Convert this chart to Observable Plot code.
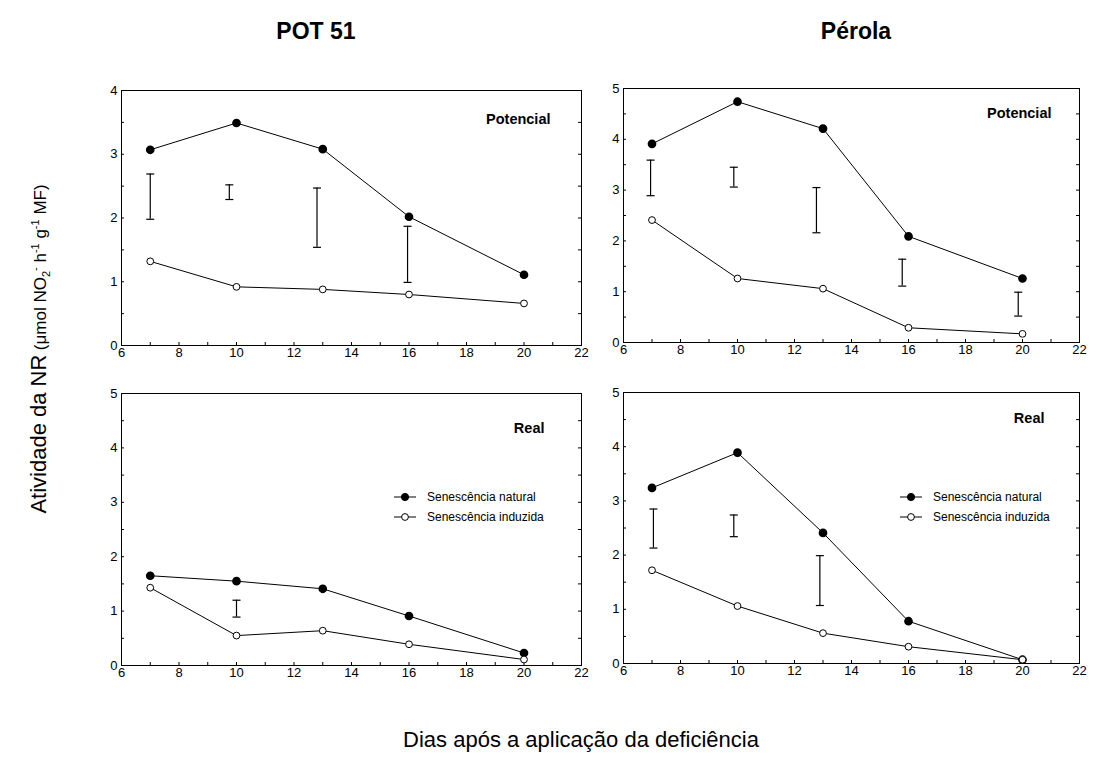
<!DOCTYPE html>
<html><head><meta charset="utf-8">
<script src="https://cdn.jsdelivr.net/npm/d3@7"></script>
<script src="https://cdn.jsdelivr.net/npm/@observablehq/plot@0.6"></script>
<style>
body{margin:0;background:#fff;font-family:"Liberation Sans",Arial,sans-serif;color:#000;}
#wrap{position:relative;width:1097px;height:758px;overflow:hidden;background:#fff;}
.abs{position:absolute;white-space:nowrap;}
.ctr{transform:translate(-50%,-50%);}
.leg{position:absolute;font-size:12px;line-height:20px;}
.leg div{display:flex;align-items:center;height:20px;}
.leg svg{margin-right:11px;}
</style></head><body><div id="wrap"></div>
<script>
// ---- data ----
const days = [7, 10, 13, 16, 20];
const seriesNames = ["Senescência natural", "Senescência induzida"];
const columnTitles = ["POT 51", "Pérola"];
const panelLabels = ["Potencial", "Real"];

// POT 51 – Potencial
const pot51PotNatural = [3.07, 3.49, 3.08, 2.02, 1.11];
const pot51PotInduzida = [1.32, 0.92, 0.88, 0.80, 0.66];
const pot51PotBarX = [7.0, 9.75, 12.8, 15.95];
const pot51PotBarLow = [1.98, 2.29, 1.54, 0.99];
const pot51PotBarHigh = [2.69, 2.52, 2.47, 1.87];

// Pérola – Potencial
const perolaPotNatural = [3.91, 4.74, 4.21, 2.09, 1.26];
const perolaPotInduzida = [2.41, 1.26, 1.06, 0.29, 0.17];
const perolaPotBarX = [6.95, 9.87, 12.77, 15.78, 19.85];
const perolaPotBarLow = [2.89, 3.06, 2.16, 1.11, 0.52];
const perolaPotBarHigh = [3.59, 3.45, 3.05, 1.64, 0.99];

// POT 51 – Real
const pot51RealNatural = [1.65, 1.55, 1.41, 0.91, 0.23];
const pot51RealInduzida = [1.43, 0.55, 0.64, 0.39, 0.11];
const pot51RealBarX = [10.0];
const pot51RealBarLow = [0.89];
const pot51RealBarHigh = [1.20];

// Pérola – Real
const perolaRealNatural = [3.24, 3.89, 2.41, 0.78, 0.07];
const perolaRealInduzida = [1.72, 1.06, 0.56, 0.31, 0.07];
const perolaRealBarX = [7.05, 9.87, 12.89];
const perolaRealBarLow = [2.13, 2.34, 1.07];
const perolaRealBarHigh = [2.85, 2.74, 1.99];

const xDomain = [6, 22];

// ---- layout ----
const wrap = document.getElementById("wrap");
const FONT = '"Liberation Sans", Arial, sans-serif';

const capSymbol = {draw(ctx, size) { const w = Math.sqrt(size / Math.PI); ctx.moveTo(-w, 0); ctx.lineTo(w, 0); }};

function panel(p) {
  const W = p.x1 - p.x0, H = p.yb - p.yt;
  const mL = 34, mR = 8, mT = 8, mB = 24;
  const yMajor = d3.range(0, p.ymax + 0.001, 1);
  const yMinor = d3.range(0, p.ymax + 0.001, 0.5);
  const xMajor = d3.range(xDomain[0], xDomain[1] + 0.001, 2);
  const xMinor = d3.range(xDomain[0], xDomain[1] + 0.001, 1);
  const nat = days.map((d, i) => ({x: d, y: p.nat[i]}));
  const ind = days.map((d, i) => ({x: d, y: p.ind[i]}));
  const bars = p.barX.map((x, i) => ({x, lo: p.barLo[i], hi: p.barHi[i]}));
  const chart = Plot.plot({
    width: W + mL + mR, height: H + mT + mB,
    marginLeft: mL, marginRight: mR, marginTop: mT, marginBottom: mB,
    x: {domain: xDomain}, y: {domain: [0, p.ymax]},
    style: {fontFamily: FONT, fontSize: "13px", color: "black", background: "transparent", overflow: "visible"},
    marks: [
      Plot.frame({stroke: "black", strokeWidth: 1}),
      Plot.axisY(yMajor, {tickSize: 0, tickPadding: 4, label: null, fontSize: 13, tickFormat: d3.format("d")}),
      Plot.axisX(xMajor, {tickSize: 0, tickPadding: 2, label: null, fontSize: 13, tickFormat: d3.format("d")}),
      Plot.tickY(yMinor, {y: d => d, insetRight: W - 3, stroke: "black"}),
      Plot.tickY(yMinor, {y: d => d, insetLeft: W - 3, stroke: "black"}),
      Plot.tickX(xMinor, {x: d => d, insetTop: H - 3, stroke: "black"}),
      Plot.ruleX(bars, {x: "x", y1: "lo", y2: "hi", stroke: "black", strokeWidth: 1.2}),
      Plot.dot(bars, {x: "x", y: "lo", symbol: capSymbol, r: 4, stroke: "black", fill: "none", strokeWidth: 1.2}),
      Plot.dot(bars, {x: "x", y: "hi", symbol: capSymbol, r: 4, stroke: "black", fill: "none", strokeWidth: 1.2}),
      Plot.line(nat, {x: "x", y: "y", stroke: "black", strokeWidth: 1}),
      Plot.line(ind, {x: "x", y: "y", stroke: "black", strokeWidth: 1}),
      Plot.dot(nat, {x: "x", y: "y", r: 3.6, fill: "black", stroke: "black"}),
      Plot.dot(ind, {x: "x", y: "y", r: 3.4, fill: "white", stroke: "black", strokeWidth: 1}),
      Plot.text([p.label], {frameAnchor: "top-right", dx: p.ldx, dy: p.ldy, textAnchor: "end", lineAnchor: "middle",
        fontWeight: "bold", fontSize: 14.5, fill: "black", fontFamily: FONT})
    ]
  });
  chart.style.position = "absolute";
  chart.style.left = (p.x0 - mL) + "px";
  chart.style.top = (p.yt - mT) + "px";
  wrap.appendChild(chart);
}

panel({x0: 121, x1: 581, yt: 90, yb: 345, ymax: 4, nat: pot51PotNatural, ind: pot51PotInduzida,
  barX: pot51PotBarX, barLo: pot51PotBarLow, barHi: pot51PotBarHigh, label: panelLabels[0], ldx: -31, ldy: 29});
panel({x0: 623, x1: 1079, yt: 88, yb: 342, ymax: 5, nat: perolaPotNatural, ind: perolaPotInduzida,
  barX: perolaPotBarX, barLo: perolaPotBarLow, barHi: perolaPotBarHigh, label: panelLabels[0], ldx: -28, ldy: 25});
panel({x0: 121, x1: 581, yt: 393, yb: 665, ymax: 5, nat: pot51RealNatural, ind: pot51RealInduzida,
  barX: pot51RealBarX, barLo: pot51RealBarLow, barHi: pot51RealBarHigh, label: panelLabels[1], ldx: -37, ldy: 35});
panel({x0: 623, x1: 1079, yt: 392, yb: 663, ymax: 5, nat: perolaRealNatural, ind: perolaRealInduzida,
  barX: perolaRealBarX, barLo: perolaRealBarLow, barHi: perolaRealBarHigh, label: panelLabels[1], ldx: -35, ldy: 26});

// titles
function addDiv(html, left, top, css) {
  const d = document.createElement("div");
  d.className = "abs ctr";
  d.innerHTML = html;
  d.style.left = left + "px"; d.style.top = top + "px";
  Object.assign(d.style, css || {});
  wrap.appendChild(d);
  return d;
}
addDiv(columnTitles[0], 316, 31, {fontSize: "23px", fontWeight: "bold"});
addDiv(columnTitles[1], 856, 31, {fontSize: "23px", fontWeight: "bold"});
addDiv("Dias após a aplicação da deficiência", 581, 740, {fontSize: "22px"});
const yl = addDiv('<span style="font-size:22px">Atividade da NR</span> <span style="font-size:17px">(μmol NO<sub style="font-size:11px">2</sub><sup style="font-size:11px">-</sup> h<sup style="font-size:11px">-1</sup> g<sup style="font-size:11px">-1</sup> MF)</span>', 39, 349, {});
yl.style.transform = "translate(-50%,-50%) rotate(-90deg)";

// legends
function legend(left, top) {
  const L = document.createElement("div");
  L.className = "leg";
  L.style.left = left + "px"; L.style.top = top + "px";
  seriesNames.forEach((name, i) => {
    const row = document.createElement("div");
    row.innerHTML = `<svg width="22" height="10"><line x1="0" x2="22" y1="5" y2="5" stroke="black" stroke-width="1"/><circle cx="11" cy="5" r="${i ? 3.4 : 3.6}" fill="${i ? "white" : "black"}" stroke="black"/></svg><span>${name}</span>`;
    L.appendChild(row);
  });
  wrap.appendChild(L);
}
legend(394, 487);
legend(900, 487);
</script></body></html>
